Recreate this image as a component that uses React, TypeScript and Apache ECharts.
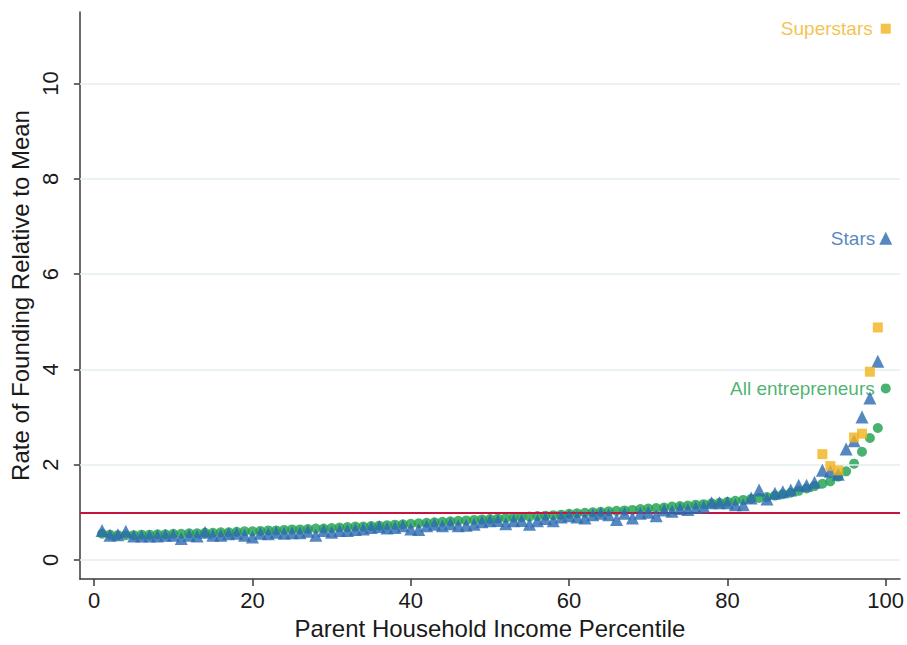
import React, { useEffect, useRef } from "react";
import * as echarts from "echarts";

const percentiles: number[] = Array.from({ length: 100 }, (_, i) => i + 1);

const allEntrepreneurs: number[] = [
  0.55, 0.53, 0.52, 0.52, 0.52, 0.53, 0.53, 0.54, 0.54, 0.55,
  0.55, 0.56, 0.56, 0.57, 0.57, 0.58, 0.58, 0.59, 0.6, 0.6,
  0.61, 0.62, 0.62, 0.63, 0.64, 0.64, 0.65, 0.66, 0.66, 0.67,
  0.68, 0.69, 0.7, 0.7, 0.71, 0.72, 0.73, 0.74, 0.75, 0.76,
  0.77, 0.78, 0.79, 0.8, 0.81, 0.82, 0.83, 0.84, 0.85, 0.86,
  0.87, 0.88, 0.89, 0.9, 0.91, 0.92, 0.93, 0.94, 0.95, 0.97,
  0.98, 0.99, 1.0, 1.01, 1.02, 1.03, 1.04, 1.05, 1.07, 1.08,
  1.09, 1.1, 1.12, 1.13, 1.14, 1.16, 1.17, 1.19, 1.2, 1.22,
  1.24, 1.26, 1.28, 1.3, 1.32, 1.35, 1.38, 1.41, 1.45, 1.5,
  1.55, 1.6, 1.65, 1.75, 1.86, 2.02, 2.27, 2.56, 2.77, 3.6,
];

const stars: number[] = [
  0.62, 0.52, 0.53, 0.6, 0.5, 0.5, 0.5, 0.5, 0.52, 0.52,
  0.45, 0.52, 0.5, 0.58, 0.52, 0.52, 0.55, 0.56, 0.52, 0.48,
  0.56, 0.55, 0.58, 0.56, 0.57, 0.57, 0.6, 0.52, 0.62, 0.58,
  0.62, 0.62, 0.64, 0.65, 0.68, 0.7, 0.67, 0.68, 0.72, 0.65,
  0.64, 0.72, 0.75, 0.72, 0.76, 0.72, 0.73, 0.75, 0.8, 0.82,
  0.83, 0.76, 0.82, 0.83, 0.75, 0.82, 0.87, 0.82, 0.9, 0.93,
  0.9, 0.88, 0.95, 0.98, 0.95, 0.85, 0.98, 0.88, 0.98, 1.0,
  0.93, 1.05, 1.02, 1.08, 1.06, 1.1, 1.12, 1.2, 1.2, 1.2,
  1.16, 1.16, 1.3, 1.47, 1.28, 1.4, 1.43, 1.47, 1.57, 1.57,
  1.63, 1.88, 1.86, 1.8, 2.33, 2.5, 3.0, 3.4, 4.17, 6.75,
];

const superstarPercentiles: number[] = [92, 93, 94, 96, 97, 98, 99, 100];
const superstars: number[] = [2.22, 1.97, 1.88, 2.57, 2.65, 3.95, 4.88, 11.15];

const xTicks: number[] = [0, 20, 40, 60, 80, 100];
const yTicks: number[] = [0, 2, 4, 6, 8, 10];
const meanLevel = 1;

const GREEN = "#1c9f4c";
const BLUE = "#2a69b0";
const ORANGE = "#f2b31c";
const RED = "#c8143c";
const FONT = "Liberation Sans";

export default function App() {
  const ref = useRef<HTMLDivElement>(null);
  useEffect(() => {
    if (!ref.current) return;
    const chart = echarts.init(ref.current, undefined, { renderer: "svg" });
    const lastLabel = (name: string, n: number) => (p: any) => (p.dataIndex === n - 1 ? name : "");
    chart.setOption({
      animation: false,
      backgroundColor: "#ffffff",
      grid: { left: 75, right: 4, top: 12, bottom: 58 },
      xAxis: {
        type: "value",
        min: -1.8,
        max: 101.8,
        name: "Parent Household Income Percentile",
        nameLocation: "middle",
        nameGap: 37,
        nameTextStyle: { fontFamily: FONT, fontSize: 24, color: "#1a1a1a" },
        axisLine: { show: true, onZero: false, lineStyle: { color: "#3a3a3a", width: 1.5 } },
        axisTick: { show: true, customValues: xTicks, length: 7, lineStyle: { color: "#3a3a3a", width: 1.5 } },
        axisLabel: { customValues: xTicks, fontFamily: FONT, fontSize: 22, color: "#1a1a1a", margin: 10 },
        splitLine: { show: false },
      },
      yAxis: {
        type: "value",
        min: -0.4,
        max: 11.5,
        name: "Rate of Founding Relative to Mean",
        nameLocation: "middle",
        nameGap: 41,
        nameTextStyle: { fontFamily: FONT, fontSize: 24, color: "#1a1a1a" },
        axisLine: { show: true, onZero: false, lineStyle: { color: "#3a3a3a", width: 1.5 } },
        axisTick: { show: true, customValues: yTicks, length: 6, lineStyle: { color: "#3a3a3a", width: 1.5 } },
        axisLabel: { customValues: yTicks, rotate: 90, fontFamily: FONT, fontSize: 22, color: "#1a1a1a", margin: 18 },
        splitLine: { show: false },
      },
      series: [
        {
          type: "line",
          data: [],
          silent: true,
          markLine: {
            silent: true,
            symbol: "none",
            label: { show: false },
            lineStyle: { color: "#e4eef1", width: 1.5, type: "solid" },
            data: yTicks.map((v) => ({ yAxis: v })),
          },
        },
        {
          type: "line",
          data: [],
          silent: true,
          z: 3,
          markLine: {
            silent: true,
            symbol: "none",
            label: { show: false },
            lineStyle: { color: RED, width: 1.8, type: "solid" },
            data: [{ yAxis: meanLevel }],
          },
        },
        {
          name: "All entrepreneurs",
          type: "scatter",
          symbol: "circle",
          symbolSize: 10,
          z: 4,
          itemStyle: { color: GREEN },
          data: percentiles.map((p, i) => [p, allEntrepreneurs[i]]),
          label: {
            show: true,
            position: "left",
            distance: 6,
            formatter: lastLabel("All entrepreneurs", percentiles.length),
            color: GREEN,
            fontFamily: FONT,
            fontSize: 19,
          },
        },
        {
          name: "Stars",
          type: "scatter",
          symbol: "triangle",
          symbolSize: 13,
          z: 5,
          itemStyle: { color: BLUE },
          data: percentiles.map((p, i) => [p, stars[i]]),
          label: {
            show: true,
            position: "left",
            distance: 4,
            formatter: lastLabel("Stars", percentiles.length),
            color: BLUE,
            fontFamily: FONT,
            fontSize: 19,
          },
        },
        {
          name: "Superstars",
          type: "scatter",
          symbol: "rect",
          symbolSize: 10,
          z: 6,
          itemStyle: { color: ORANGE },
          data: superstarPercentiles.map((p, i) => [p, superstars[i]]),
          label: {
            show: true,
            position: "left",
            distance: 8,
            formatter: lastLabel("Superstars", superstarPercentiles.length),
            color: ORANGE,
            fontFamily: FONT,
            fontSize: 19,
          },
        },
      ],
    });
    return () => chart.dispose();
  }, []);
  return <div ref={ref} style={{ position: "fixed", left: 0, top: 0, width: 907, height: 645 }} />;
}
